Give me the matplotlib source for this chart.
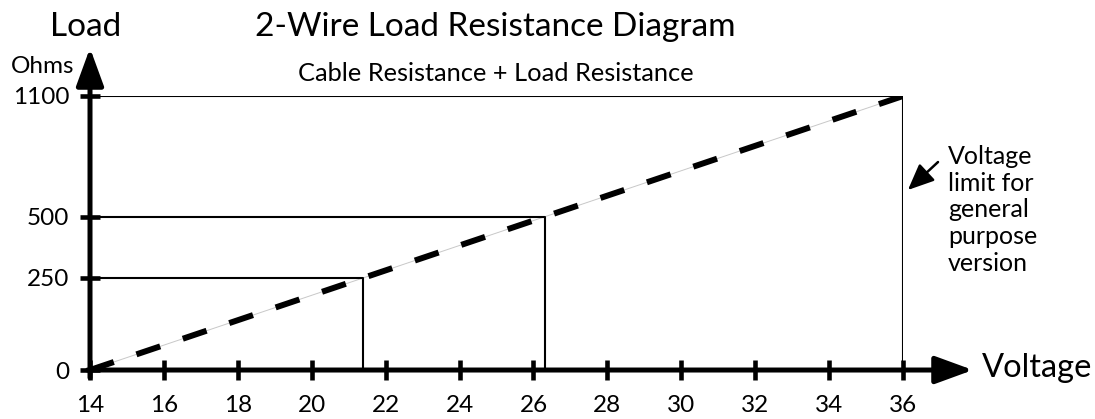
import numpy as np
import matplotlib
matplotlib.use('Agg')
import matplotlib.pyplot as plt

plt.rcParams['font.family'] = ['Lato', 'DejaVu Sans']

# operating points: supply voltage vs allowed load resistance
voltage = [14, 21.4, 26.3, 36]
load = [0, 250, 500, 1100]
x_ticks = [14, 16, 18, 20, 22, 24, 26, 28, 30, 32, 34, 36]
y_ticks = [0, 250, 500, 1100]

title = '2-Wire Load Resistance Diagram'
subtitle = 'Cable Resistance + Load Resistance'
note = 'Voltage\nlimit for\ngeneral\npurpose\nversion'


def fwd(y):
    return np.interp(y, load, voltage)


def inv(v):
    return np.interp(v, voltage, load)


fig = plt.figure(figsize=(10.95, 4.19), dpi=100)
ax = fig.add_axes([0.0822, 0.1169, 0.7425, 0.654])
ax.set_yscale('function', functions=(fwd, inv))
ax.set_xlim(14, 36)
ax.set_ylim(0, 1100)

# thin guide line under the dashes
ax.plot(voltage, load, color='#c8c8c8', lw=0.7, zorder=2)
ax.plot(voltage, load, color='black', lw=4.3, dashes=(4.2, 4.0), zorder=3,
        solid_capstyle='butt', dash_capstyle='butt')

# boxes from each point back to the axes
for v, r in zip(voltage[1:], load[1:]):
    ax.plot([14, v, v], [r, r, 0], color='black', lw=1.5, zorder=2)

for s in ax.spines.values():
    s.set_visible(False)

ax.set_xticks(x_ticks)
ax.set_yticks(y_ticks)
ax.tick_params(direction='inout', length=14, width=3.3, labelsize=17.5, color='black')
ax.tick_params(axis='x', pad=11)
ax.tick_params(axis='y', pad=8)

# axis arrows
arw = dict(arrowstyle='-|>,head_length=1.15,head_width=0.42', lw=3.6, color='black',
           shrinkA=0, shrinkB=0, mutation_scale=20)
ax.annotate('', xy=(1.086, 0), xytext=(-0.003, 0), xycoords='axes fraction',
            arrowprops=arw, annotation_clip=False)
ax.annotate('', xy=(0, 1.175), xytext=(0, -0.028), xycoords='axes fraction',
            arrowprops=arw, annotation_clip=False)

# note arrow pointing at the 36 V limit
ax.annotate('', xy=(1.006, 0.657), xytext=(1.043, 0.759), xycoords='axes fraction',
            arrowprops=dict(arrowstyle='-|>,head_length=0.8,head_width=0.35', lw=1.8,
                            color='black', shrinkA=0, shrinkB=0, mutation_scale=20),
            annotation_clip=False)
ax.text(1.055, 0.822, note, transform=ax.transAxes, fontsize=18, va='top', ha='left',
        linespacing=1.2)

fig.text(0.4525, 0.914, title, fontsize=24, ha='center', va='baseline')
fig.text(0.4525, 0.807, subtitle, fontsize=18.3, ha='center', va='baseline')
fig.text(0.0785, 0.914, 'Load', fontsize=24, ha='center', va='baseline')
fig.text(0.0388, 0.826, 'Ohms', fontsize=17.5, ha='center', va='baseline')
fig.text(0.897, 0.100, 'Voltage', fontsize=23.5, ha='left', va='baseline')

plt.savefig('out.png', dpi=100)
